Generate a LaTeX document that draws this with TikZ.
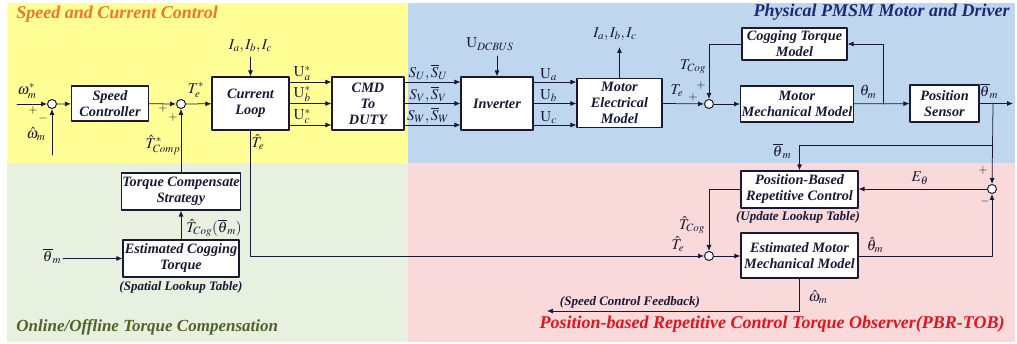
\documentclass[tikz,border=0pt]{standalone}
\usepackage{fontspec}
\usepackage{mathptmx}
\setmainfont{Liberation Serif}
\usetikzlibrary{arrows.meta}

\definecolor{ink}{RGB}{25,25,55}
\definecolor{bgyel}{RGB}{255,255,150}
\definecolor{bgblu}{RGB}{190,214,238}
\definecolor{bggrn}{RGB}{232,240,224}
\definecolor{bgpnk}{RGB}{249,217,217}
\definecolor{ttorg}{RGB}{240,118,40}
\definecolor{ttblu}{RGB}{30,40,120}
\definecolor{ttgrn}{RGB}{80,98,40}
\definecolor{ttred}{RGB}{228,20,30}

\tikzset{every picture/.style={line width=0.75pt},
  block/.style={draw=ink, line width=1.2pt, fill=white, align=center, inner sep=1pt,
    font=\fontsize{14.3}{16}\selectfont\bfseries\itshape},
  sumj/.style={draw=ink, circle, fill=white, minimum size=9pt, inner sep=0pt, line width=1pt},
  lbl/.style={font=\fontsize{15}{16}\selectfont, inner sep=1pt},
  sgn/.style={font=\fontsize{12}{12}\selectfont, inner sep=0pt},
  note/.style={font=\fontsize{13}{14}\selectfont\bfseries\itshape, inner sep=0pt},
  title/.style={font=\fontsize{18}{19}\selectfont\bfseries\itshape, inner sep=0pt}}

\begin{document}
\begin{tikzpicture}[x=1pt, y=-1pt, line join=round, line cap=round, >={Latex[length=6pt,width=5pt]}, color=ink]
\useasboundingbox (0,0) rectangle (1017,344);
% regions
\fill[bgyel] (7,3) rectangle (408,163);
\fill[bgblu] (408,3) rectangle (1015,163);
\fill[bggrn] (7,163) rectangle (408,342);
\fill[bgpnk] (408,163) rectangle (1015,342);
\node[title, text=ttorg, anchor=west] (t1) at (16,14) {Speed and Current Control};
\node[title, text=ttblu, anchor=east] (t2) at (1010,12) {Physical PMSM Motor and Driver};
\node[title, text=ttgrn, anchor=west, font=\fontsize{17}{18}\selectfont\bfseries\itshape] (t3) at (16,327) {Online/Offline Torque Compensation};
\node[title, text=ttred, anchor=east] (t4) at (1005,324) {Position-based Repetitive Control Torque Observer(PBR-TOB)};

% blocks
\node[block, minimum width=77pt, minimum height=35pt] (spd) at (110,103.5) {Speed\\Controller};
\node[block, minimum width=77pt, minimum height=53pt] (cl) at (250.5,103.5) {Current\\Loop};
\node[block, minimum width=72pt, minimum height=53pt] (cmd) at (368,103.5) {CMD\\To\\DUTY};
\node[block, minimum width=72pt, minimum height=53pt] (inv) at (497,103.5) {Inverter};
\node[block, minimum width=85pt, minimum height=49pt] (mel) at (619.5,103) {Motor\\Electrical\\Model};
\node[block, minimum width=105pt, minimum height=32pt] (cog) at (794.5,44) {Cogging Torque\\Model};
\node[block, minimum width=110pt, minimum height=36pt] (mmm) at (797,104) {Motor\\Mechanical Model};
\node[block, minimum width=69pt, minimum height=37pt] (ps) at (944.5,103.5) {Position\\Sensor};
\node[block, minimum width=116pt, minimum height=37pt] (tcs) at (181,191.5) {Torque Compensate\\Strategy};
\node[block, minimum width=116pt, minimum height=37pt] (ect) at (181,258.5) {Estimated Cogging\\Torque};
\node[block, minimum width=117pt, minimum height=37pt] (pbrc) at (799.5,189.5) {Position-Based\\Repetitive Control};
\node[block, minimum width=117pt, minimum height=45pt] (emm) at (799.5,255.5) {Estimated Motor\\Mechanical Model};
\node[note] (n1) at (181,287) {(Spatial Lookup Table)};
\node[note] (n2) at (798,217) {(Update Lookup Table)};

% summing junctions
\node[sumj] (j1) at (52,104) {};
\node[sumj] (j2) at (181,104) {};
\node[sumj] (j3) at (709,104) {};
\node[sumj] (j4) at (992,189) {};
\node[sumj] (j5) at (709,256) {};

% free ends
\path (17,104) coordinate (win)
      (52,155) coordinate (wfb)
      (250.5,57) coordinate (iin)
      (497,56) coordinate (udc)
      (619.5,47) coordinate (iout)
      (883,104) coordinate (br1)
      (993,103.5) coordinate (br2)
      (1013,103.5) coordinate (tout)
      (993,145) coordinate (br3)
      (547,311) coordinate (wout)
      (63,258.5) coordinate (thin);

% speed and current loop
\draw[->] (win) -- (j1);
\draw[->] (wfb) -- (j1);
\draw[->] (j1) -- (spd);
\draw[->] (spd) -- (j2);
\draw[->] (tcs) -- (j2);
\draw[->] (j2) -- (cl);
\draw[->] (iin) -- (cl.north);
\node[lbl] (lw1) at (27,91) {$\omega_m^*$};
\node[sgn] (sg1) at (33,111) {$+$};
\node[sgn] (sg2) at (43,119) {$-$};
\node[lbl] (lw2) at (36,134) {$\hat{\omega}_m$};
\node[sgn] (sg3) at (163,109) {$+$};
\node[sgn] (sg4) at (173,118) {$+$};
\node[lbl] (lte1) at (196,90) {$T_e^*$};
\node[lbl] (ltc) at (163,145) {$\hat{T}_{Comp}^*$};
\node[lbl] (lia1) at (250.5,46) {$I_a,I_b,I_c$};
\node[lbl] (lte2) at (258,142) {$\hat{T}_e$};

% drive chain
\foreach \y/\p/\q in {82/a/U,103.5/b/V,125/c/W}{
  \draw[->] (cl.east|-0,\y) -- node[lbl, above, pos=0.3] {$\mathrm{U}_\p^*$} (cmd.west|-0,\y);
  \draw[->] (cmd.east|-0,\y) -- node[lbl, above, pos=0.42] {$S_\q,\overline{S}_\q$} (inv.west|-0,\y);
  \draw[->] (inv.east|-0,\y) -- node[lbl, above, pos=0.35] {$\mathrm{U}_\p$} (mel.west|-0,\y);
}
\draw[->] (udc) -- (inv.north);
\node[lbl] (ldc) at (490,44) {$\mathrm{U}_{DCBUS}$};
\draw[->] (mel.north) -- (iout);
\node[lbl] (lia2) at (615,34) {$I_a,I_b,I_c$};

% motor mechanics
\draw[->] (mel) -- (j3);
\draw[->] (cog.west) -| (j3);
\draw[->] (j3) -- (mmm);
\draw[->] (mmm) -- (ps);
\draw[->] (br1) |- (cog.east);
\draw[->] (ps.east) -- (tout);
\node[lbl] (lte3) at (677,91) {$T_e$};
\node[sgn] (sg5) at (693,98) {$+$};
\node[sgn] (sg6) at (701,86) {$+$};
\node[lbl] (ltg1) at (693,67) {$T_{Cog}$};
\node[lbl] (lth1) at (868,92) {$\theta_m$};
\node[lbl] (lth2) at (989,91) {$\overline{\theta}_m$};

% observer
\draw[->] (br2) -- (j4);
\draw[->] (br3) -| (pbrc.north);
\draw[->] (j4) -- (pbrc.east|-j4);
\draw[->] (pbrc.west) -| (j5);
\draw[->] (cl.south) |- (j5);
\draw[->] (j5) -- (emm.west|-j5);
\draw[->] (emm.east|-j5) -| (j4);
\draw[->] (emm.south) |- (wout);
\node[lbl] (lth3) at (782,151) {$\overline{\theta}_m$};
\node[lbl] (leth) at (920,178) {$E_\theta$};
\node[sgn] (sg7) at (983,171) {$+$};
\node[sgn] (sg8) at (985,202) {$-$};
\node[lbl] (ltg2) at (692,225) {$\hat{T}_{Cog}$};
\node[lbl] (lte4) at (678,244) {$\hat{T}_e$};
\node[lbl] (lth4) at (875,245) {$\hat{\theta}_m$};
\node[lbl] (lw3) at (818,297) {$\hat{\omega}_m$};
\node[note] (n3) at (630,302) {(Speed Control Feedback)};

% compensation
\draw[->] (thin) -- (ect);
\draw[->] (ect) -- (tcs);
\node[lbl] (lth5) at (52,256) {$\overline{\theta}_m$};
\node[lbl] (ltg3) at (214,228) {$\hat{T}_{Cog}(\overline{\theta}_m)$};
\end{tikzpicture}
\end{document}
